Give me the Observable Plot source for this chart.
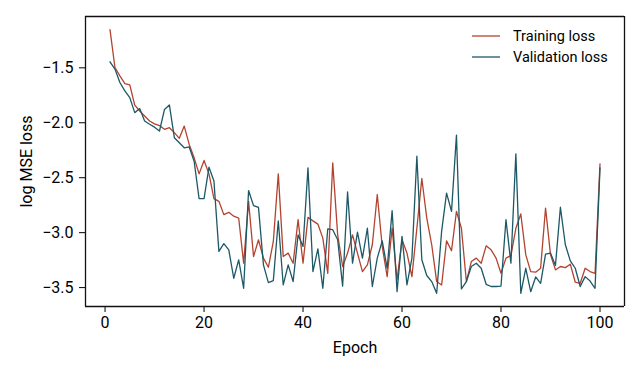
<!DOCTYPE html>
<html><head><meta charset="utf-8">
<script src="https://cdn.jsdelivr.net/npm/d3@7"></script>
<script src="https://cdn.jsdelivr.net/npm/@observablehq/plot@0.6"></script>
<style>
body{margin:0;background:#fff;}
#chart svg{font-family:Roboto,"DejaVu Sans",sans-serif;}
</style>
</head><body><div id="chart"></div>
<script>
const epochs = d3.range(1, 101);
const trainingLoss = [
-1.153,-1.497,-1.573,-1.643,-1.655,-1.840,-1.893,-1.938,-1.984,-2.010,
-2.025,-2.060,-2.045,-2.090,-2.142,-2.030,-2.197,-2.319,-2.465,-2.343,
-2.465,-2.690,-2.715,-2.836,-2.815,-2.850,-2.867,-3.278,-2.715,-3.217,
-3.065,-3.232,-3.315,-3.080,-2.465,-3.217,-3.186,-3.278,-2.882,-3.278,
-2.861,-2.893,-2.922,-3.050,-3.370,-2.365,-3.020,-3.308,-3.186,-3.020,
-3.186,-3.354,-3.293,-3.110,-2.653,-3.126,-3.400,-2.960,-3.430,-3.065,
-3.186,-3.400,-2.960,-2.507,-2.867,-3.110,-3.445,-3.476,-3.075,-3.165,
-2.806,-2.960,-3.445,-3.263,-3.232,-3.278,-3.120,-3.156,-3.232,-3.370,
-3.232,-3.208,-2.960,-2.830,-3.200,-3.354,-3.360,-3.324,-2.776,-3.200,
-3.339,-3.308,-3.318,-3.287,-3.451,-3.461,-3.324,-3.354,-3.370,-2.374];
const validationLoss = [
-1.445,-1.512,-1.634,-1.710,-1.771,-1.908,-1.871,-1.984,-2.014,-2.040,
-2.075,-1.880,-1.838,-2.136,-2.182,-2.228,-2.220,-2.350,-2.690,-2.690,
-2.404,-2.530,-3.170,-3.100,-3.156,-3.415,-3.247,-3.506,-2.617,-2.754,
-2.770,-3.293,-3.455,-3.436,-2.892,-3.476,-3.293,-3.445,-3.020,-3.126,
-2.410,-3.354,-3.147,-3.506,-2.965,-2.973,-3.065,-3.486,-2.630,-3.278,
-2.995,-3.232,-2.960,-3.490,-3.232,-3.075,-3.324,-2.800,-3.537,-3.034,
-3.476,-3.232,-2.304,-3.247,-3.390,-3.445,-3.552,-2.989,-2.640,-2.806,
-2.112,-3.512,-3.445,-3.308,-3.278,-3.324,-3.470,-3.490,-3.490,-3.486,
-2.882,-3.278,-2.283,-3.552,-3.324,-3.537,-3.403,-3.461,-3.195,-3.186,
-3.299,-2.769,-3.110,-3.257,-3.324,-3.490,-3.400,-3.440,-3.506,-2.410];
const seriesNames = ["Training loss", "Validation loss"];
const seriesColors = ["#b3432f", "#1d5866"];
const xTicks = [0, 20, 40, 60, 80, 100];
const yTicks = [-1.5, -2.0, -2.5, -3.0, -3.5];

const rows = [];
epochs.forEach((e, i) => {
  rows.push({epoch: e, loss: trainingLoss[i], series: seriesNames[0]});
});
epochs.forEach((e, i) => {
  rows.push({epoch: e, loss: validationLoss[i], series: seriesNames[1]});
});

const xExt = d3.extent(epochs);
const xPad = (xExt[1] - xExt[0]) * 0.05;
const xDomain = [xExt[0] - xPad, xExt[1] + xPad];
const yExt = d3.extent(trainingLoss.concat(validationLoss));
const yPad = (yExt[1] - yExt[0]) * 0.05;
const yDomain = [yExt[0] - yPad, yExt[1] + yPad];

const svg = Plot.plot({
  width: 640,
  height: 373,
  marginLeft: 85,
  marginRight: 16,
  marginTop: 16,
  marginBottom: 67,
  style: {fontFamily: "Roboto, sans-serif", fontSize: "16px", color: "#000", background: "#fff"},
  x: {domain: xDomain},
  y: {domain: yDomain},
  color: {domain: seriesNames, range: seriesColors},
  marks: [
    Plot.axisX({ticks: xTicks, tickSize: 6, tickPadding: 4, tickFormat: d => String(d),
      label: "Epoch", labelAnchor: "center", labelArrow: "none", labelOffset: 46, fontSize: 16}),
    Plot.axisY({ticks: yTicks, tickSize: 6, tickPadding: 6, tickFormat: d => d.toFixed(1).replace("-", "\u2212"),
      label: "log MSE loss", labelAnchor: "center", labelArrow: "none", labelOffset: 65, fontSize: 16}),
    Plot.line(rows, {x: "epoch", y: "loss", z: "series", stroke: "series", strokeWidth: 1.3}),
    Plot.ruleX(xDomain, {stroke: "#111", strokeWidth: 1.3}),
    Plot.ruleY(yDomain, {stroke: "#111", strokeWidth: 1.3})
  ]
});

const lg = d3.select(svg).append("g")
  .attr("font-family", "Roboto, sans-serif").attr("font-size", 14.5).attr("text-anchor", "start");
seriesNames.forEach((name, i) => {
  const y = 36 + i * 21;
  lg.append("line").attr("x1", 472).attr("x2", 500).attr("y1", y).attr("y2", y)
    .attr("stroke", seriesColors[i]).attr("stroke-width", 1.3);
  lg.append("text").attr("x", 513).attr("y", y).attr("dy", "0.35em")
    .attr("fill", "#000").attr("text-anchor", "start").text(name);
});

document.getElementById("chart").appendChild(svg);
</script>
</body></html>
